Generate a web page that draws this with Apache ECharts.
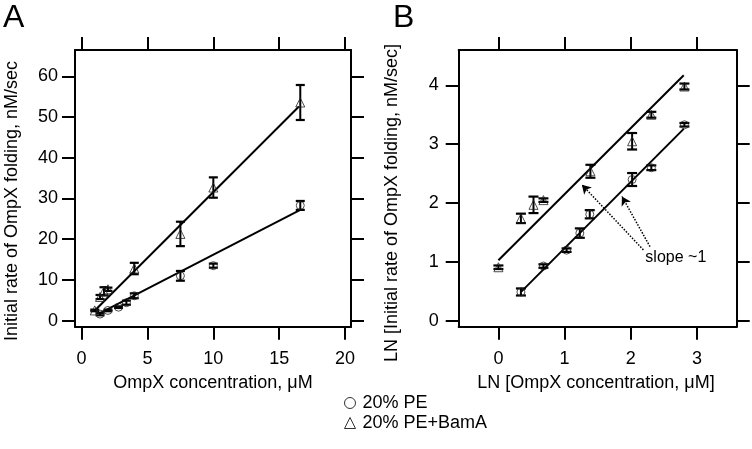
<!DOCTYPE html>
<html>
<head>
<meta charset="utf-8">
<script src="https://cdn.jsdelivr.net/npm/echarts@6/dist/echarts.min.js"></script>
<style>html,body{margin:0;padding:0;background:#fff}#c{width:752px;height:449px}</style>
</head>
<body>
<div id="c"></div>
<script>
// ---------- Data ----------
// Panel A: OmpX concentration (uM) vs initial folding rate (nM/sec)
var peX      = [1.4, 2.0, 2.8, 3.4, 4.0, 7.5, 10.0, 16.6];
var peY      = [1.6, 2.5, 3.3, 4.4, 6.1, 11.0, 13.5, 28.3];
var peErr    = [0.3, 0.2, 0.2, 0.5, 0.6, 1.2, 0.5, 1.1];
var bamX     = [1.0, 1.4, 1.7, 2.0, 4.0, 7.5, 10.0, 16.6];
var bamY     = [2.5, 5.8, 7.2, 7.7, 12.8, 21.3, 32.7, 53.6];
var bamErr   = [0.2, 0.5, 1.0, 0.4, 1.4, 3.0, 2.5, 4.3];
var peFitA   = [[1.25, 1.6], [16.6, 27.2]];
var bamFitA  = [[0.95, 2.3], [16.5, 52.6]];
// Panel B: natural log of both quantities
var lnPeX    = [0.34, 0.68, 1.03, 1.23, 1.38, 2.02, 2.31, 2.81];
var lnPeY    = [0.49, 0.93, 1.20, 1.49, 1.81, 2.40, 2.60, 3.33];
var lnPeErr  = [0.06, 0.03, 0.03, 0.08, 0.07, 0.11, 0.04, 0.03];
var lnBamX   = [0.00, 0.34, 0.53, 0.68, 1.39, 2.02, 2.31, 2.81];
var lnBamY   = [0.91, 1.74, 1.97, 2.05, 2.54, 3.05, 3.50, 3.98];
var lnBamErr = [0.03, 0.08, 0.14, 0.03, 0.11, 0.14, 0.05, 0.05];
var peFitB   = [[0.35, 0.50], [2.80, 3.26]];
var bamFitB  = [[0.00, 1.03], [2.80, 4.17]];
// Annotation arrows (tail -> head) in panel B data units
var arrowsB  = [[[2.19, 1.205], [1.261, 2.313]], [[2.29, 1.26], [1.866, 2.113]]];
var slopeLabelAt = [2.22, 1.07];
// Ticks
var xTicksA = [0, 5, 10, 15, 20];
var yTicksA = [0, 10, 20, 30, 40, 50, 60];
var xTicksB = [0, 1, 2, 3];
var yTicksB = [0, 1, 2, 3, 4];
var seriesNames = ['20% PE', '20% PE+BamA'];

// ---------- Helpers ----------
var FONT = 'Liberation Sans, Arial, Helvetica, sans-serif';
function zip3(a, b, c) { return a.map(function (v, i) { return [v, b[i], c[i]]; }); }
function zip2(a, b) { return a.map(function (v, i) { return [v, b[i]]; }); }

function axisBase(min, max, ticks, pos, showLabel, gridIndex, margin) {
  return {
    type: 'value', gridIndex: gridIndex, position: pos, min: min, max: max,
    axisLine: { show: true, onZero: false, lineStyle: { color: '#000', width: 2 } },
    axisTick: { show: true, inside: false, length: 13, customValues: ticks, lineStyle: { color: '#000', width: 2 } },
    axisLabel: { show: showLabel, customValues: ticks, color: '#000', fontSize: 18, fontFamily: FONT, margin: margin },
    splitLine: { show: false }
  };
}

function errRender(capW) {
  return function (params, api) {
    var x = api.value(0), y = api.value(1), e = api.value(2);
    var lo = api.coord([x, y - e]), hi = api.coord([x, y + e]);
    var st = { stroke: '#000', lineWidth: 2 };
    var cap = { stroke: '#000', lineWidth: 2.2 };
    return {
      type: 'group', children: [
        { type: 'line', shape: { x1: lo[0], y1: lo[1], x2: hi[0], y2: hi[1] }, style: st },
        { type: 'line', shape: { x1: lo[0] - capW / 2, y1: lo[1], x2: lo[0] + capW / 2, y2: lo[1] }, style: cap },
        { type: 'line', shape: { x1: hi[0] - capW / 2, y1: hi[1], x2: hi[0] + capW / 2, y2: hi[1] }, style: cap }
      ]
    };
  };
}

function errSeries(xi, yi, data, capW) {
  return { type: 'custom', xAxisIndex: xi, yAxisIndex: yi, data: data, renderItem: errRender(capW), silent: true, z: 3 };
}
function fitSeries(xi, yi, data, extra) {
  var s = { type: 'line', xAxisIndex: xi, yAxisIndex: yi, data: data, symbol: 'none', silent: true,
    lineStyle: { color: '#000', width: 2 }, z: 2 };
  if (extra) for (var k in extra) s[k] = extra[k];
  return s;
}
function markerSeries(name, xi, yi, data, sym, size) {
  return { name: name, type: 'scatter', xAxisIndex: xi, yAxisIndex: yi, data: data, symbol: sym, symbolSize: size,
    itemStyle: { color: 'rgba(255,255,255,0)', borderColor: '#222', borderWidth: 1 }, z: 4, silent: true };
}

var chart = echarts.init(document.getElementById('c'), null, { renderer: 'canvas' });

var option = {
  animation: false,
  backgroundColor: '#fff',
  textStyle: { fontFamily: FONT },
  grid: [
    { left: 75, top: 50, width: 276, height: 276.7 },
    { left: 458.7, top: 50, width: 278, height: 276.7 }
  ],
  xAxis: [
    axisBase(-0.5, 20.45, xTicksA, 'bottom', true, 0, 23),
    axisBase(-0.5, 20.45, xTicksA, 'top', false, 0, 8),
    axisBase(-0.6, 3.6, xTicksB, 'bottom', true, 1, 23),
    axisBase(-0.6, 3.6, xTicksB, 'top', false, 1, 8)
  ],
  yAxis: [
    axisBase(-1.5, 66.5, yTicksA, 'left', true, 0, 17),
    axisBase(-1.5, 66.5, yTicksA, 'right', false, 0, 8),
    axisBase(-0.1, 4.6, yTicksB, 'left', true, 1, 20),
    axisBase(-0.1, 4.6, yTicksB, 'right', false, 1, 8)
  ],
  legend: {
    orient: 'vertical', left: 344, top: 394, padding: 0, itemWidth: 11, itemHeight: 11, itemGap: 2,
    textStyle: { fontSize: 18, fontFamily: FONT, color: '#000', padding: [0, 0, 0, 2] },
    data: [
      { name: seriesNames[0], icon: 'circle', itemStyle: { color: 'rgba(255,255,255,0)', borderColor: '#000', borderWidth: 1 } },
      { name: seriesNames[1], icon: 'triangle', itemStyle: { color: 'rgba(255,255,255,0)', borderColor: '#000', borderWidth: 1 } }
    ]
  },
  graphic: [
    { type: 'text', left: 3, top: 2, style: { text: 'A', fontSize: 32, fontFamily: FONT, fill: '#000' } },
    { type: 'text', left: 393, top: 2, style: { text: 'B', fontSize: 32, fontFamily: FONT, fill: '#000' } },
    { type: 'text', x: 213, y: 383, style: { text: 'OmpX concentration, \u03bcM', fontSize: 18, fontFamily: FONT, fill: '#000', align: 'center', verticalAlign: 'middle' } },
    { type: 'text', x: 596, y: 383, style: { text: 'LN [OmpX concentration, \u03bcM]', fontSize: 18, fontFamily: FONT, fill: '#000', align: 'center', verticalAlign: 'middle' } },
    { type: 'text', x: 12, y: 201, rotation: Math.PI / 2, style: { text: 'Initial rate of OmpX folding, nM/sec', fontSize: 18, fontFamily: FONT, fill: '#000', align: 'center', verticalAlign: 'middle' } },
    { type: 'text', x: 392, y: 203, rotation: Math.PI / 2, style: { text: 'LN [Initial rate of OmpX folding, nM/sec]', fontSize: 18, fontFamily: FONT, fill: '#000', align: 'center', verticalAlign: 'middle' } }
  ],
  series: [
    // Panel A
    fitSeries(0, 0, peFitA),
    fitSeries(0, 0, bamFitA),
    errSeries(0, 0, zip3(peX, peY, peErr), 9),
    errSeries(0, 0, zip3(bamX, bamY, bamErr), 9),
    markerSeries(seriesNames[0], 0, 0, zip2(peX, peY), 'circle', 8),
    markerSeries(seriesNames[1], 0, 0, zip2(bamX, bamY), 'triangle', 9),
    // Panel B
    fitSeries(2, 2, peFitB),
    fitSeries(2, 2, bamFitB, {
      markLine: {
        silent: true, symbol: ['none', 'arrow'], symbolSize: [8, 9],
        lineStyle: { color: '#000', type: 'dotted', width: 1.5 },
        label: { show: false },
        data: arrowsB.map(function (a) { return [{ coord: a[0] }, { coord: a[1] }]; })
      },
      markPoint: {
        silent: true, symbol: 'circle', symbolSize: 0,
        label: { show: true, position: 'right', distance: 0, formatter: 'slope ~1', fontSize: 16, fontFamily: FONT, color: '#000' },
        data: [{ coord: slopeLabelAt }]
      }
    }),
    errSeries(2, 2, zip3(lnPeX, lnPeY, lnPeErr), 10),
    errSeries(2, 2, zip3(lnBamX, lnBamY, lnBamErr), 10),
    markerSeries(seriesNames[0], 2, 2, zip2(lnPeX, lnPeY), 'circle', 8),
    markerSeries(seriesNames[1], 2, 2, zip2(lnBamX, lnBamY), 'triangle', 9)
  ]
};
chart.setOption(option);
</script>
</body>
</html>
